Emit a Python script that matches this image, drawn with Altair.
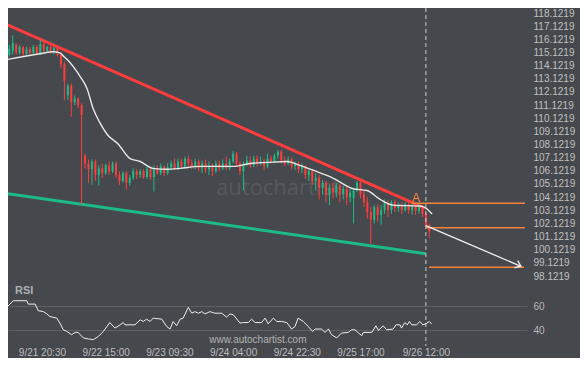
import altair as alt
import pandas as pd

# ---------------- data ----------------
candle_hours = list(range(11, 134))  # hours since 9/21 00:00
opens = [114.95, 115.24, 115.69, 115.10, 115.54, 115.02, 115.39, 115.10, 115.54, 115.02,
         115.76, 115.24, 115.54, 115.17, 115.47, 114.95, 114.21, 111.85, 112.59, 111.33,
         111.63, 111.11, 107.27, 106.68, 106.24, 106.83, 105.80, 106.31, 105.95, 106.54,
         106.09, 106.68, 105.80, 105.35, 105.95, 105.21, 105.58, 106.09, 105.80, 106.09,
         105.65, 106.24, 105.65, 106.31, 105.95, 106.46, 105.95, 106.39, 106.68, 106.31,
         106.83, 106.46, 107.05, 106.68, 106.46, 106.83, 106.31, 106.68, 106.24, 106.54,
         106.09, 106.68, 106.31, 106.68, 106.31, 106.83, 107.42, 106.68, 106.09, 106.68,
         106.90, 106.54, 107.05, 106.68, 106.83, 106.46, 107.05, 106.83, 107.27, 107.57,
         106.90, 106.68, 106.98, 106.46, 106.68, 106.24, 106.46, 105.80, 106.09, 105.35,
         105.58, 104.84, 105.21, 104.32, 104.84, 104.47, 104.99, 104.32, 104.76, 104.10,
         104.03, 104.62, 105.21, 104.32, 103.73, 102.99, 102.40, 103.36, 102.77, 103.14,
         103.73, 103.14, 103.73, 103.29, 103.51, 103.14, 103.58, 103.14, 103.44, 103.07,
         103.36, 102.85, 101.96]
highs = [115.69, 116.42, 115.83, 115.69, 115.61, 115.54, 115.54, 115.69, 115.69, 116.13,
         115.91, 115.61, 115.69, 115.54, 115.61, 115.10, 114.43, 112.73, 112.73, 111.85,
         111.70, 111.26, 107.42, 106.98, 106.98, 106.98, 106.54, 106.68, 106.68, 106.83,
         106.83, 106.83, 106.09, 106.09, 106.09, 105.80, 106.31, 106.24, 106.24, 106.24,
         106.46, 106.39, 106.54, 106.54, 106.68, 106.54, 106.68, 106.90, 107.05, 107.05,
         107.05, 107.20, 107.27, 106.98, 107.05, 106.98, 106.90, 106.98, 106.83, 106.68,
         106.90, 106.90, 106.98, 107.20, 107.05, 107.64, 107.57, 106.83, 106.83, 107.27,
         107.20, 107.27, 107.27, 107.20, 107.05, 107.42, 107.27, 107.42, 107.72, 107.72,
         107.20, 107.20, 107.13, 106.83, 106.83, 106.68, 106.54, 106.31, 106.24, 105.95,
         105.80, 105.43, 105.35, 105.06, 105.21, 105.21, 105.13, 104.99, 104.91, 104.76,
         104.84, 105.35, 105.35, 104.62, 104.10, 103.36, 103.51, 103.58, 103.51, 103.95,
         103.88, 103.88, 103.88, 103.73, 103.73, 103.73, 103.73, 103.66, 103.58, 103.58,
         103.51, 102.99, 102.11]
lows = [114.80, 114.95, 114.95, 114.95, 114.87, 114.87, 114.95, 115.02, 114.95, 114.95,
        115.10, 115.10, 115.02, 114.95, 114.80, 113.92, 111.48, 111.48, 110.23, 111.11,
        110.89, 103.58, 106.31, 105.21, 105.06, 105.35, 104.99, 105.58, 105.80, 105.80,
        105.95, 105.58, 105.06, 105.21, 104.69, 104.99, 105.43, 105.50, 105.58, 105.50,
        105.50, 105.43, 104.54, 105.80, 105.80, 105.72, 105.80, 106.17, 106.17, 106.17,
        106.31, 106.31, 106.46, 106.24, 106.24, 106.09, 105.95, 105.95, 105.80, 105.72,
        105.95, 106.09, 106.17, 106.17, 106.17, 106.68, 106.46, 105.80, 104.62, 106.46,
        106.31, 106.39, 106.46, 106.54, 106.17, 106.31, 106.68, 106.68, 107.05, 106.68,
        106.46, 106.54, 106.24, 106.17, 105.95, 105.95, 105.50, 105.35, 105.06, 104.62,
        103.95, 104.32, 103.73, 103.51, 104.03, 104.10, 103.73, 103.95, 103.51, 103.73,
        102.11, 104.47, 104.03, 103.36, 102.48, 100.56, 102.11, 102.25, 102.03, 102.85,
        102.62, 102.85, 102.99, 102.99, 102.85, 102.99, 102.85, 102.77, 102.77, 102.85,
        102.62, 101.81, 101.00]
closes = [115.39, 115.83, 115.10, 115.54, 115.02, 115.39, 115.10, 115.54, 115.02, 115.76,
          115.24, 115.54, 115.17, 115.47, 114.95, 114.21, 112.96, 112.59, 111.33, 111.63,
          111.11, 110.37, 106.68, 106.24, 106.83, 105.80, 106.31, 105.95, 106.54, 106.09,
          106.68, 105.80, 105.35, 105.95, 105.21, 105.58, 106.09, 105.80, 106.09, 105.65,
          106.24, 105.65, 106.31, 105.95, 106.46, 105.95, 106.39, 106.68, 106.31, 106.83,
          106.46, 107.05, 106.68, 106.46, 106.83, 106.31, 106.68, 106.24, 106.54, 106.09,
          106.68, 106.31, 106.68, 106.31, 106.83, 107.42, 106.68, 106.09, 106.68, 106.90,
          106.54, 107.05, 106.68, 106.83, 106.46, 107.05, 106.83, 107.27, 107.57, 106.90,
          106.68, 106.98, 106.46, 106.68, 106.24, 106.46, 105.80, 106.09, 105.35, 105.58,
          104.84, 105.21, 104.32, 104.84, 104.47, 104.99, 104.32, 104.76, 104.10, 104.47,
          104.62, 105.21, 104.32, 103.73, 102.99, 102.40, 103.36, 102.77, 103.14, 103.73,
          103.14, 103.73, 103.29, 103.51, 103.14, 103.58, 103.14, 103.44, 103.07, 103.36,
          102.85, 101.96, 101.52]

ma_hours = [10.3, 19.9, 23.7, 25.7, 26.9, 27.8, 31.5, 33.6, 35.3, 37.3,
            39.4, 42.6, 46.1, 49.0, 52.7, 56.8, 60.6, 66.4, 76.0, 80.9,
            85.9, 91.7, 95.4, 99.2, 105.0, 110.8, 114.9, 118.7, 122.4, 130.3,
            132.0, 133.8]
ma_values = [114.58, 115.02, 115.17, 115.09, 114.80, 114.58, 113.32, 112.36, 110.89, 109.78,
             108.90, 108.16, 107.05, 106.83, 106.31, 106.24, 106.31, 106.46, 106.46, 106.68,
             106.76, 106.83, 106.53, 106.17, 105.57, 104.76, 104.62, 103.95, 103.51, 103.44,
             103.29, 102.84]

rsi_hours = [10.4, 11.2, 12.2, 16.1, 16.5, 18.5, 19.4, 20.9, 21.9, 22.8,
             24.8, 25.7, 26.7, 27.7, 29.1, 30.1, 31.0, 32.5, 33.9, 35.4,
             36.9, 38.3, 40.2, 41.7, 43.2, 44.1, 44.6, 47.5, 49.0, 49.9,
             50.9, 51.9, 52.8, 55.3, 56.7, 57.7, 58.6, 59.6, 60.6, 61.5,
             63.0, 64.0, 64.9, 65.9, 66.9, 67.8, 69.3, 70.7, 72.7, 74.1,
             75.1, 76.1, 78.0, 79.0, 80.4, 81.4, 82.4, 84.3, 85.3, 86.2,
             87.7, 88.7, 90.1, 91.6, 93.0, 94.0, 94.9, 96.4, 97.8, 99.1,
             99.8, 101.7, 102.7, 103.7, 104.6, 106.1, 107.5, 109.5, 110.4, 111.4,
             112.4, 113.4, 113.8, 116.3, 117.5, 118.2, 119.6, 120.6, 122.5, 123.3,
             124.5, 124.9, 125.9, 126.6, 127.2, 127.9, 129.3, 130.3, 131.1, 132.0,
             133.0, 133.7]
rsi_values = [59.4, 61.6, 64.4, 64.4, 61.6, 61.6, 56.1, 55.3, 53.4, 51.2,
              49.9, 45.8, 40.2, 38.8, 36.1, 38.0, 38.0, 33.4, 32.6, 32.0,
              34.7, 38.8, 46.2, 41.6, 44.3, 46.2, 44.3, 44.3, 48.5, 47.1,
              49.0, 47.1, 49.9, 49.0, 43.0, 40.8, 47.1, 43.5, 49.0, 49.9,
              58.9, 54.0, 55.3, 54.0, 55.3, 53.4, 55.3, 54.0, 54.0, 50.7,
              53.4, 52.6, 45.8, 46.2, 46.2, 49.0, 46.2, 46.2, 49.9, 45.2,
              49.9, 47.1, 47.1, 46.2, 40.8, 43.0, 49.9, 47.1, 43.0, 38.8,
              40.8, 40.8, 38.0, 40.8, 36.1, 33.4, 37.5, 38.0, 40.2, 40.2,
              37.5, 35.3, 38.0, 38.0, 43.5, 39.7, 43.5, 40.2, 40.8, 44.3,
              44.3, 41.6, 46.2, 44.3, 47.1, 44.3, 44.3, 47.1, 44.3, 45.2,
              47.1, 44.9]

resistance_hours = [10.3, 131.7]
resistance_prices = [117.24, 103.29]
support_hours = [10.3, 132.0]
support_prices = [104.39, 99.82]

level_start = [128.0, 132.0, 132.9]
level_end = [160.8, 160.8, 160.5]
level_prices = [103.66, 101.80, 98.79]

arrow_hours = [132.0, 159.6]
arrow_prices = [101.95, 98.86]

tick_hours = [20.5, 39, 57.5, 76, 94.5, 113, 132]
tick_labels = ["9/21 20:30", "9/22 15:00", "9/23 09:30", "9/24 04:00",
               "9/24 22:30", "9/25 17:00", "9/26 12:00"]
price_ticks = [98.1219 + i for i in range(21)]
rsi_ticks = [40, 60]
signal_hour = 132

# ---------------- styling ----------------
BG = "#45484d"
GREEN = "#1dbb88"
RED = "#ff3d3d"
ORANGE = "#f5843f"
W, H = 519, 338

xscale = alt.Scale(domain=[10.625, 161.37], nice=False, zero=False)
pscale = alt.Scale(domain=[98.1219, 118.1219], range=[268, 5], nice=False, zero=False)
rscale = alt.Scale(domain=[40, 60], range=[322, 298], nice=False, zero=False)

label_expr = " : ".join(f"datum.value == {h} ? '{l}'" for h, l in zip(tick_hours, tick_labels)) + " : ''"
xaxis = alt.Axis(values=tick_hours, labelExpr=label_expr, title=None, grid=False, domain=False,
                 ticks=False, labelPadding=1, labelFontSize=10, labelColor="#bdbdbd",
                 labelFont="Liberation Sans", orient="bottom", labelFlush=False, labelOverlap=False)
paxis = alt.Axis(values=price_ticks, format=".4f", title=None, grid=False, domain=False, ticks=False,
                 orient="right", labelPadding=6, labelFontSize=10, labelColor="#c0c0c0",
                 labelFont="Liberation Sans", labelOverlap=False, labelFlush=False)
raxis = alt.Axis(values=rsi_ticks, title=None, grid=True, gridColor="#5c5f64", gridWidth=1,
                 domain=False, ticks=False, orient="right", labelPadding=6, labelFontSize=10,
                 labelColor="#b8b8b8", labelFont="Liberation Sans", labelOverlap=False, labelFlush=False)

X = lambda f: alt.X(f, type="quantitative", scale=xscale, axis=xaxis)
PY = lambda f: alt.Y(f, type="quantitative", scale=pscale, axis=paxis)
RY = lambda f: alt.Y(f, type="quantitative", scale=rscale, axis=raxis)

candles = pd.DataFrame({"h": candle_hours, "o": opens, "hi": highs, "lo": lows, "c": closes})
candles["dir"] = ["up" if c >= o else "down" for o, c in zip(opens, closes)]
col = alt.Color("dir:N", scale=alt.Scale(domain=["up", "down"], range=[GREEN, RED]), legend=None)

cbase = alt.Chart(candles)
wicks = cbase.mark_rule(strokeWidth=1).encode(x=X("h"), y=PY("lo"), y2="hi", color=col)
bodies = cbase.mark_rule(strokeWidth=2).encode(x=X("h"), y=PY("o"), y2="c", color=col)

ma = alt.Chart(pd.DataFrame({"h": ma_hours, "v": ma_values})).mark_line(
    color="#e8e8e8", strokeWidth=1.4, interpolate="monotone").encode(x=X("h"), y=PY("v"))

res = alt.Chart(pd.DataFrame({"h": resistance_hours, "v": resistance_prices})).mark_line(
    color=RED, strokeWidth=3).encode(x=X("h"), y=PY("v"))
sup = alt.Chart(pd.DataFrame({"h": support_hours, "v": support_prices})).mark_line(
    color=GREEN, strokeWidth=3).encode(x=X("h"), y=PY("v"))

levels = alt.Chart(pd.DataFrame({"a": level_start, "b": level_end, "v": level_prices})).mark_rule(
    color=ORANGE, strokeWidth=1.5).encode(x=X("a"), x2="b", y=PY("v"))

arrow = alt.Chart(pd.DataFrame({"h": arrow_hours, "v": arrow_prices})).mark_line(
    color="#f0f0f0", strokeWidth=1.3).encode(x=X("h"), y=PY("v"))
arrow_head = alt.Chart(pd.DataFrame({"h": arrow_hours[1:], "v": arrow_prices[1:]})).mark_point(
    shape="M -1 -0.75 L 0 0 L -1 0.75", filled=False, stroke="#f0f0f0", strokeWidth=1.3,
    size=110, angle=24, opacity=1).encode(x=X("h"), y=PY("v"))

vline = alt.Chart(pd.DataFrame({"h": [signal_hour]})).mark_rule(
    color="#c8c8c8", strokeDash=[4, 3], strokeWidth=1).encode(x=X("h"))

watermark = alt.Chart(pd.DataFrame({"h": [89.0], "v": [104.84], "t": ["autochartist"]})).mark_text(
    font="Open Sans", fontSize=22, color="#55585d", align="center", baseline="middle").encode(
    x=X("h"), y=PY("v"), text="t:N")
a_label = alt.Chart(pd.DataFrame({"h": [129.1], "v": [104.03], "t": ["A"]})).mark_text(
    font="Liberation Sans", fontSize=12, color=ORANGE, align="center", baseline="middle").encode(
    x=X("h"), y=PY("v"), text="t:N")

price_layer = alt.layer(watermark, sup, res, wicks, bodies, ma, levels, arrow, arrow_head, vline, a_label)

rsi_line = alt.Chart(pd.DataFrame({"h": rsi_hours, "v": rsi_values})).mark_line(
    color="#eeeeee", strokeWidth=1).encode(x=X("h"), y=RY("v"))
rsi_title = alt.Chart(pd.DataFrame({"h": [12.66], "v": [72.3], "t": ["RSI"]})).mark_text(
    font="Liberation Sans", fontSize=11, fontWeight="bold", color="#aab0b6", align="left",
    baseline="middle").encode(x=X("h"), y=RY("v"), text="t:N")
site = alt.Chart(pd.DataFrame({"h": [83.2], "v": [31.5], "t": ["www.autochartist.com"]})).mark_text(
    font="Liberation Sans", fontSize=10, color="#b4b4b4", align="center",
    baseline="middle").encode(x=X("h"), y=RY("v"), text="t:N")

rsi_layer = alt.layer(rsi_line, rsi_title, site)

chart = alt.layer(price_layer, rsi_layer).resolve_scale(y="independent").properties(
    width=W, height=H,
    autosize=alt.AutoSizeParams(type="none"),
    padding={"left": 0, "top": 0, "right": 53, "bottom": 12},
    background=BG,
).configure_view(stroke=None)

chart.save("out.html", embed_options={"renderer": "svg", "actions": False})
